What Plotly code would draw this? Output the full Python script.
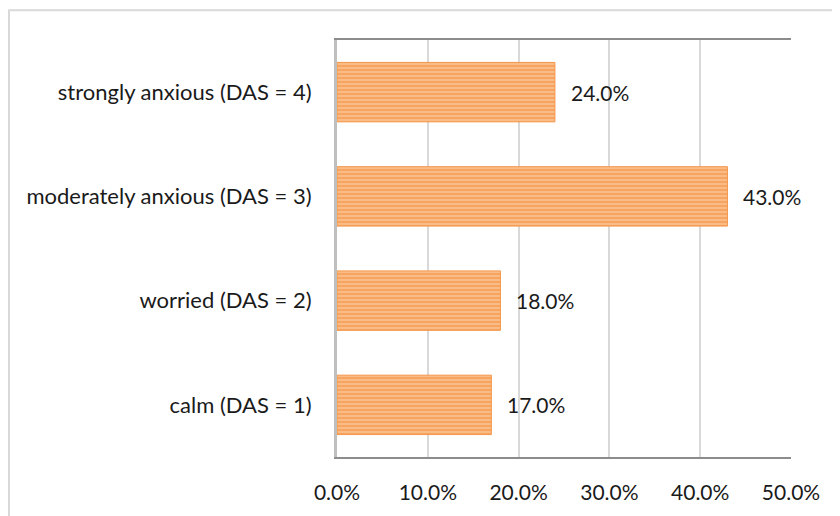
import plotly.graph_objects as go

categories = ['calm (DAS = 1)', 'worried (DAS = 2)', 'moderately anxious (DAS = 3)', 'strongly anxious (DAS = 4)']
shares = [0.17, 0.18, 0.43, 0.24]
tick_values = [0, 0.1, 0.2, 0.3, 0.4, 0.5]
tick_labels = ['0.0%', '10.0%', '20.0%', '30.0%', '40.0%', '50.0%']

FONT = 'Lato'

fig = go.Figure()
fig.add_trace(go.Bar(
    x = shares, y = categories, orientation = 'h',
    marker = dict(
        color = '#f8b677',
        line = dict(color = '#f5974a', width = 1),
        pattern = dict(shape = '-', fgcolor = '#f1852e', bgcolor = '#fac290', size = 4, solidity = 0.6),
    ),
    hoverinfo = 'skip',
))

# etiquetas de valor ao lado de cada barra
for cat, val in zip(categories, shares):
    fig.add_annotation(x = val, y = cat, text = f'{val * 100:.1f}%', xanchor = 'left', xshift = 14,
                       showarrow = False, font = dict(family = FONT, size = 21, color = '#1a1a1a'))

# moldura externa do gráfico
fig.add_shape(type = 'rect', xref = 'paper', yref = 'paper', x0 = -0.7225, x1 = 1.2, y0 = -0.2, y1 = 1.0714,
              line = dict(color = '#d9d9d9', width = 2), layer = 'below')

# a página tem margem de 8px no body, então a figura fica 8px menor
fig.update_layout(
    width = 832, height = 508,
    margin = dict(l = 329, r = 49, t = 32, b = 56),
    paper_bgcolor = 'white', plot_bgcolor = 'white',
    bargap = 0.43, showlegend = False,
    font = dict(family = FONT, size = 21, color = '#1a1a1a'),
    xaxis = dict(range = [0, 0.5], tickvals = tick_values, ticktext = tick_labels,
                 showgrid = True, gridcolor = '#d9d9d9', gridwidth = 1.5,
                 showline = True, linecolor = '#8c8c8c', linewidth = 2, mirror = True,
                 zeroline = False, ticks = '', ticklabelstandoff = 16, fixedrange = True),
    yaxis = dict(showline = True, linecolor = '#bfbfbf', linewidth = 3, showgrid = False,
                 tickfont = dict(size = 22),
                 ticks = '', ticklabelstandoff = 18, fixedrange = True),
)

fig.write_html("out.html")
